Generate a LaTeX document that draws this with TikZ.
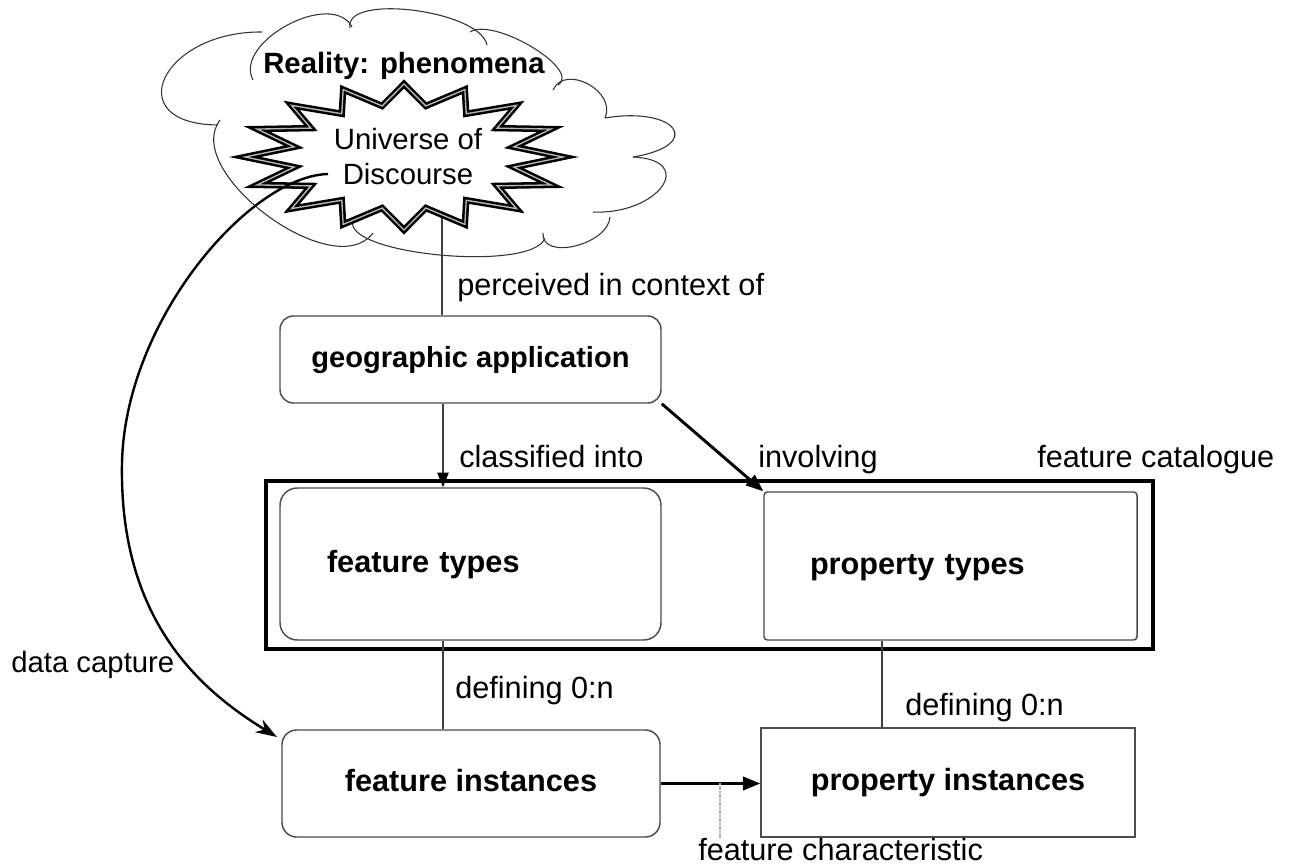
\documentclass[tikz,border=0pt]{standalone}
\usepackage{fontspec}
\setmainfont{Liberation Sans}
\usetikzlibrary{arrows.meta,calc}
\begin{document}
\begin{tikzpicture}[x=0.75pt,y=-0.75pt,
  lbl/.style={font=\fontsize{23}{27}\selectfont, inner sep=0pt, anchor=base west},
  bx/.style={draw=black!70, line width=1.1pt, font=\fontsize{23}{27}\selectfont\bfseries,
             text height=16.8pt, text depth=4.8pt, inner sep=0pt},
  thinline/.style={draw=black!75, line width=1pt},
  thinarrow/.style={thinline, -{Triangle[length=11pt,width=8.5pt,color=black]}},
  thickarrow/.style={draw=black, line width=2.2pt, -{Triangle[length=13pt,width=10pt]}},
  lobe/.style={draw=black!80, line width=0.8pt},
  tickline/.style={draw=gray!60, line width=2pt, dash pattern=on 1.5pt off 0.5pt},
]
\useasboundingbox (0,0) rectangle (1291,867);

% cloud (reality)
\draw[lobe] (218,125) .. controls (118,124) and (162,31) .. (262,32);
\draw[lobe] (253,80) .. controls (233,42) and (332,-11) .. (352,27);
\draw[lobe] (350,28) .. controls (343,-7) and (480,10) .. (487,45);
\draw[lobe] (470,32) .. controls (494,16.7) and (582,69.7) .. (558,85);
\draw[lobe] (553,90) .. controls (565,63.3) and (617,91.3) .. (605,118);
\draw[lobe] (605,118) .. controls (677,106) and (705,145) .. (633,157);
\draw[lobe] (633,157) .. controls (698,160) and (658,215) .. (593,212);
\draw[lobe] (610,217) .. controls (608,245) and (541,261) .. (543,233);
\draw[lobe] (545,238) .. controls (533,272.7) and (341,254.7) .. (353,220);
\draw[lobe] (373,233) .. controls (334,285) and (181,172) .. (220,120);

% starburst (universe of discourse)
\draw[fill=white, draw=black, line width=1.9pt, double=gray!55, double distance=1pt, line join=miter]
  plot[samples at={0,...,31}]
  ({404+ifthenelse(mod(\x,2)==0,159,112)*cos(\x*11.25)},
   {157-ifthenelse(mod(\x,2)==0,73,52)*sin(\x*11.25)}) -- cycle;

\node[font=\fontsize{22}{26}\selectfont\bfseries, inner sep=0pt, anchor=base west] (real) at (263,74) {Reality: phenomena};
\node[font=\fontsize{22}{26.25}\selectfont, align=center, inner sep=0pt] (uod) at (408,157) {Universe of\\Discourse};

% feature catalogue frame
\node[draw=black, line width=2.3pt, minimum width=665.25pt, minimum height=126pt, inner sep=0pt] (cat) at (709.5,565) {};

% boxes
\node[bx, rounded corners=10pt, minimum width=285.75pt, minimum height=65.25pt,
      font=\fontsize{21.8}{26}\selectfont\bfseries, text height=15.9pt, text depth=4.6pt] (geo) at (470.5,359.5) {geographic application};
\node[bx, rounded corners=13pt, minimum width=285.75pt, minimum height=114pt,
      text width=215.25pt, inner xsep=35.25pt, align=left] (ft) at (470.5,564) {feature types};
\node[bx, rounded corners=2.5pt, minimum width=279.75pt, minimum height=111pt,
      text width=210.75pt, inner xsep=34.5pt, align=left] (pt) at (950.5,566) {property types};
\node[bx, rounded corners=11pt, minimum width=283.5pt, minimum height=80.25pt] (fi) at (471,783.5) {feature instances};
\node[bx, minimum width=280.5pt, minimum height=81.75pt] (pi) at (948,782.5) {property instances};

% labels
\node[lbl] (lperc) at (457,295) {perceived in context of};
\node[lbl] (lclass) at (459,467) {classified into};
\node[lbl] (linv) at (758,467) {involving};
\node[lbl] (lcat) at (1037,467) {feature catalogue};
\node[lbl] (ldefa) at (455,698) {defining 0:n};
\node[lbl] (ldefb) at (905,715) {defining 0:n};
\node[lbl, font=\fontsize{22}{26}\selectfont] (ldata) at (11,672) {data capture};
\node[lbl] (lchar) at (698,860) {feature characteristic};

% connectors
\coordinate (ubot) at (442,218);
\coordinate (cola) at (443,0);
\coordinate (colb) at (882,0);
\draw[thinline] (ubot) -- (ubot |- geo.north);
\draw[thinarrow] (cola |- geo.south) -- (cola |- ft.north);
\draw[thickarrow] (geo.south east) -- (pt.north west);
\draw[thinline] (cola |- ft.south) -- (cola |- fi.north);
\draw[thinline] (colb |- pt.south) -- (colb |- pi.north);
\draw[thickarrow] (fi.east) -- (fi.east -| pi.west);
\coordinate (tk) at (720,783);
\draw[tickline] (tk) -- (tk |- lchar.north);

% data capture
\coordinate (dcs) at (328,174);
\coordinate (dcm) at (122,463);
\coordinate (dce) at (277,737);
\draw[line width=1.8pt, -{Stealth[length=16pt,width=11pt]}]
  (dcs) .. controls (250,176) and (125,320) .. (dcm)
        .. controls (119,620) and (200,690) .. (dce);
\end{tikzpicture}
\end{document}
